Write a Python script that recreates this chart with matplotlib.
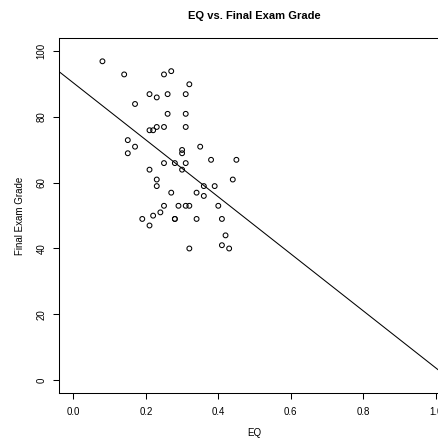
import numpy as np
import matplotlib
matplotlib.use("Agg")
import matplotlib.pyplot as plt

plt.rcParams['font.family'] = ['Liberation Sans', 'DejaVu Sans']

# EQ score and final exam grade
eq = [0.08, 0.14, 0.25, 0.27, 0.32, 0.21, 0.23, 0.26, 0.31, 0.17,
      0.26, 0.31, 0.21, 0.22, 0.23, 0.25, 0.31, 0.15, 0.17, 0.15,
      0.35, 0.30, 0.30, 0.38, 0.45, 0.25, 0.28, 0.31, 0.21, 0.30,
      0.23, 0.44, 0.23, 0.36, 0.39, 0.27, 0.34, 0.36, 0.25, 0.29,
      0.31, 0.32, 0.40, 0.19, 0.22, 0.24, 0.21, 0.28, 0.28, 0.34,
      0.41, 0.42, 0.41, 0.43, 0.32]
grade = [97, 93, 93, 94, 90, 87, 86, 87, 87, 84,
         81, 81, 76, 76, 77, 77, 77, 73, 71, 69,
         71, 70, 69, 67, 67, 66, 66, 66, 64, 64,
         61, 61, 59, 59, 59, 57, 57, 56, 53, 53,
         53, 53, 53, 49, 50, 51, 47, 49, 49, 49,
         49, 44, 41, 40, 40]

# lm fit line (abline)
fit_intercept = 90.4
fit_slope = -86.7

fig = plt.figure(figsize=(4.38, 4.38), dpi=100)
ax = fig.add_axes([59 / 438, 1 - 393 / 438, 391 / 438, 354.7 / 438])

ax.scatter(eq, grade, s=12, facecolors='none', edgecolors='black', linewidths=0.75, zorder=3)

xs = np.array([-0.1, 1.2])
ax.plot(xs, fit_intercept + fit_slope * xs, color='black', linewidth=0.75)

ax.set_xlim(-0.04, 1.04)
ax.set_ylim(-4, 104)
ax.set_xticks([0.0, 0.2, 0.4, 0.6, 0.8, 1.0])
ax.set_xticklabels(['0.0', '0.2', '0.4', '0.6', '0.8', '1.0'])
ax.set_yticks([0, 20, 40, 60, 80, 100])
ax.set_yticklabels(['0', '20', '40', '60', '80', '100'], rotation=90, va='center')

ax.tick_params(axis='both', direction='out', length=4, width=0.75, labelsize=7, colors='black')
ax.tick_params(axis='x', pad=6)
ax.tick_params(axis='y', pad=5)
for sp in ax.spines.values():
    sp.set_linewidth(0.75)

ax.set_xlabel('EQ', fontsize=7, labelpad=8)
ax.set_ylabel('Final Exam Grade', fontsize=7, labelpad=8)
ax.set_title('EQ vs. Final Exam Grade', fontsize=8, fontweight='bold', pad=14)

fig.savefig('out.png', dpi=100)
